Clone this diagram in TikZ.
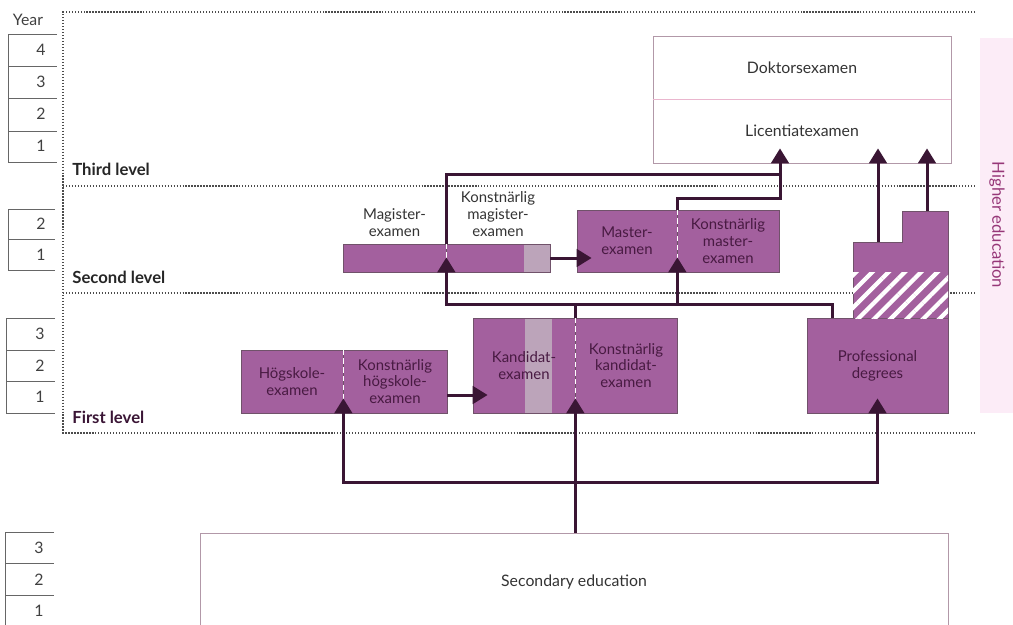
\documentclass[tikz,border=0pt]{standalone}
\usepackage{fontspec}
\setmainfont{Lato}
\usepackage{xcolor}
\usetikzlibrary{arrows.meta, patterns.meta, positioning}
\definecolor{viola}{RGB}{163,96,158}
\definecolor{grigioviola}{RGB}{188,164,186}
\definecolor{bordo}{RGB}{112,82,106}
\definecolor{scuro}{RGB}{58,22,52}
\definecolor{testoviola}{RGB}{72,26,66}
\definecolor{rosa}{RGB}{252,236,247}
\definecolor{cornice}{RGB}{178,152,168}
\definecolor{rosalinea}{RGB}{234,182,206}
\definecolor{titolo}{RGB}{150,55,120}

\begin{document}
\begin{tikzpicture}[x=0.2mm, y=-0.2mm,
        grado/.style = {draw=bordo, fill=viola, text=testoviola, align=center, inner sep=0pt, font=\fontsize{8.5}{9.6}\selectfont},
        riquadro/.style = {draw=cornice, fill=white, align=center, inner sep=0pt, text=black!80, font=\fontsize{9}{10.5}\selectfont},
        freccia/.style = {line width=1.7pt, draw=scuro, shorten >=-8.5pt, -{Triangle[width=10pt, length=8.5pt]}},
        linea/.style = {line width=1.7pt, draw=scuro},
        divisore/.style = {white, densely dashed, line width=0.4pt},
        punteggiata/.style = {densely dotted, line width=0.7pt, black!70},
        anni/.style = {line width=0.5pt, black!60},
        anno/.style = {anchor=east, inner sep=0pt, text=black!75, font=\fontsize{9}{10}\selectfont},
        livello/.style = {anchor=west, inner sep=0pt, text=black!85, font=\bfseries\fontsize{9.5}{11}\selectfont},
        etichetta/.style = {align=center, inner sep=0.5pt, text=black!80, font=\fontsize{8.5}{9.6}\selectfont}]
        \clip (0,0) rectangle (1013,624);
        % Fascia laterale
        \fill[rosa] (980,38) rectangle (1013,413);
        \node[rotate=-90, text=titolo, font=\fontsize{9.5}{10}\selectfont] (alta) at (997,225) {Higher education};
        % Cornice punteggiata dei livelli
        \draw[punteggiata] (975,12) -- (63,12) -- (63,433) -- (975,433);
        \foreach \y in {186,293}
            \draw[punteggiata] (63,\y) -- (975,\y);
        \node[livello] (terzo) at (72,169) {Third level};
        \node[livello] (secondo) at (72,277) {Second level};
        \node[livello, text=testoviola!80!black] (primo) at (72,417) {First level};
        % Anni
        \node[text=black!75, font=\fontsize{9}{10}\selectfont] (anni) at (28,20) {Year};
        \draw[anni] (57,34) -| (8,162) -- (57,162);
        \foreach \y in {66,98,131}
            \draw[anni] (8,\y) -- (57,\y);
        \foreach \n/\y in {4/50,3/82,2/114,1/146}
            \node[anno] (annoT\n) at (46,\y) {\n};
        \draw[anni] (55,209) -| (8,270) -- (55,270);
        \draw[anni] (8,239) -- (55,239);
        \foreach \n/\y in {2/224,1/255}
            \node[anno] (annoS\n) at (46,\y) {\n};
        \draw[anni] (55,318) -| (6,413) -- (55,413);
        \foreach \y in {350,381}
            \draw[anni] (6,\y) -- (55,\y);
        \foreach \n/\y in {3/334,2/366,1/397}
            \node[anno] (annoP\n) at (45,\y) {\n};
        \draw[anni] (54,532) -| (5,630);
        \foreach \y in {563,595}
            \draw[anni] (5,\y) -- (54,\y);
        \foreach \n/\y in {3/548,2/580,1/611}
            \node[anno] (annoG\n) at (44,\y) {\n};
        % Terzo livello
        \node[riquadro, minimum width=59.6mm, minimum height=12.6mm] (dokt) at (802,67.5) {Doktorsexamen};
        \node[riquadro, minimum width=59.6mm, minimum height=12.8mm] (lic) at (802,131) {Licentiatexamen};
        \draw[rosalinea] (dokt.south west) -- (dokt.south east);
        % Secondo livello
        \node[grado, minimum width=20.6mm, minimum height=5.6mm] (magL) at (394.5,258) {};
        \node[grado, minimum width=20.8mm, minimum height=5.6mm,
            path picture={\fill[grigioviola] ([xshift=15.6mm]path picture bounding box.south west) rectangle (path picture bounding box.north east);}] (magR) at (498,258) {};
        \node[etichetta, above=1.2mm of magL] (magLtesto) {Magister-\\examen};
        \node[etichetta, above=1.2mm of magR] (magRtesto) {Konstnärlig\\magister-\\examen};
        \node[grado, minimum width=20mm, minimum height=12.4mm] (masL) at (627,241) {Master-\\examen};
        \node[grado, minimum width=20.4mm, minimum height=12.4mm] (masR) at (728,241) {Konstnärlig\\master-\\examen};
        % Primo livello
        \node[grado, minimum width=20.4mm, minimum height=12.6mm] (hogL) at (292,381.5) {Högskole-\\examen};
        \node[grado, minimum width=20.8mm, minimum height=12.6mm] (hogR) at (395,381.5) {Konstnärlig\\högskole-\\examen};
        \node[grado, minimum width=20.4mm, minimum height=19mm,
            path picture={\fill[grigioviola] ([xshift=10.4mm]path picture bounding box.south west) rectangle ([xshift=15.8mm]path picture bounding box.north west);}] (kandL) at (524,365.5) {Kandidat-\\examen};
        \node[grado, minimum width=20.4mm, minimum height=19mm] (kandR) at (626,365.5) {Konstnärlig\\kandidat-\\examen};
        \node[grado, minimum width=28.2mm, minimum height=19mm] (prof) at (877.5,365.5) {Professional\\degrees};
        \filldraw[draw=bordo, fill=viola] (853,318) -- (853,242) -- (902,242) -- (902,211) -- (948,211) -- (948,318);
        \fill[pattern={Lines[angle=45, distance=2.3mm, line width=0.85mm]}, pattern color=white] (853,272) rectangle (948,318);
        \coordinate (gradino1) at (878,242);
        \coordinate (gradino2) at (927,211);
        \foreach \g in {magL, masL, hogL, kandL}
            \draw[divisore] (\g.north east) -- (\g.south east);
        % Istruzione secondaria
        \node[riquadro, minimum width=149.6mm, minimum height=19.6mm] (sec) at (574,582) {Secondary education};
        % Frecce
        \coordinate (bus) at (kandL.south east |- 0,482);
        \draw[freccia] (sec.north -| kandL.south east) -- (kandL.south east);
        \draw[freccia] (bus) -| (hogL.south east);
        \draw[freccia] (bus) -| (prof.south);
        \draw[freccia] ([yshift=-2.7mm]hogR.east) -- ([yshift=-2.7mm]hogR.east -| kandL.west);
        \draw[freccia] ([xshift=-9.1mm]prof.north) -- ++(0,-13) -| (magL.south east);
        \draw[freccia] (kandL.north east) -- ++(0,-13) -| (masL.south east);
        \draw[freccia] (magR.east) -- (magR.east -| masL.west);
        \draw[linea] (masL.north east) -- ++(0,-11) -| ([xshift=-4.4mm]lic.south);
        \draw[freccia] (magL.north east) -- ++(0,-69) -| ([xshift=-4.4mm]lic.south);
        \draw[freccia] (gradino1) -- (gradino1 |- lic.south);
        \draw[freccia] (gradino2) -- (gradino2 |- lic.south);
    \end{tikzpicture}
\end{document}
